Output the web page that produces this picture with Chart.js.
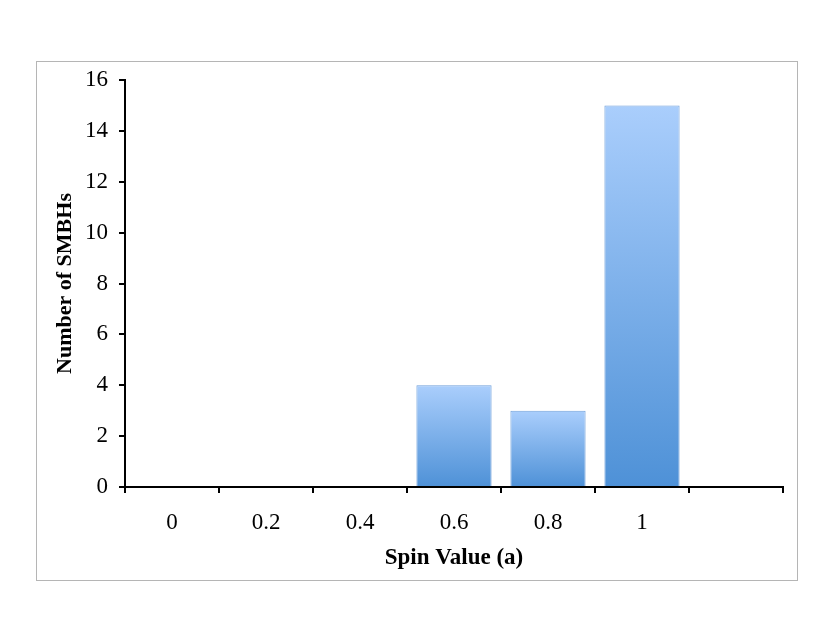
<!DOCTYPE html>
<html>
<head>
<meta charset="utf-8">
<script src="https://cdn.jsdelivr.net/npm/chart.js@4"></script>
<style>
  body { margin: 0; background: #fff; }
</style>
</head>
<body>
<canvas id="spinChart" width="830" height="642"></canvas>
<script>
const spinLabels = ['0', '0.2', '0.4', '0.6', '0.8', '1', ''];
const smbhCounts = [0, 0, 0, 4, 3, 15, null];
const yTicks = [0, 2, 4, 6, 8, 10, 12, 14, 16];

const serif = "'Liberation Serif', 'Times New Roman', serif";

// grey frame round the whole chart
const framePlugin = {
  id: 'frame',
  beforeDraw(chart) {
    const c = chart.ctx;
    c.save();
    c.fillStyle = '#fff';
    c.fillRect(0, 0, chart.width, chart.height);
    c.strokeStyle = '#b5b5b5';
    c.lineWidth = 1;
    c.strokeRect(36.5, 61.5, 761, 519);
    c.restore();
  }
};

function barGradient(context) {
  if (context.type !== 'data') return '#7fb0ea';
  const chart = context.chart;
  if (!chart.chartArea) return '#7fb0ea';
  const y = chart.scales.y;
  const top = y.getPixelForValue(context.raw || 0);
  const base = y.getPixelForValue(0);
  if (base - top < 1) return '#7fb0ea';
  const g = chart.ctx.createLinearGradient(0, top, 0, base);
  g.addColorStop(0, 'rgb(170,206,252)');
  g.addColorStop(1, 'rgb(78,145,215)');
  return g;
}

const ctx = document.getElementById('spinChart').getContext('2d');
new Chart(ctx, {
  type: 'bar',
  data: {
    labels: spinLabels,
    datasets: [{
      label: 'Number of SMBHs',
      data: smbhCounts,
      backgroundColor: barGradient,
      borderColor: 'rgb(112,160,218)',
      borderWidth: 1,
      barPercentage: 0.8,
      categoryPercentage: 1
    }]
  },
  options: {
    responsive: false,
    animation: false,
    layout: { padding: { left: 44, top: 80, right: 47, bottom: 68 } },
    plugins: {
      legend: { display: false },
      tooltip: { enabled: false }
    },
    scales: {
      x: {
        afterFit: (scale) => { scale.height = 642 - 68 - 487; },
        border: { color: '#000', width: 2 },
        grid: { drawOnChartArea: false, drawTicks: true, tickLength: 6, color: '#000', lineWidth: 2, offset: true },
        ticks: { color: '#000', padding: 16, maxRotation: 0, font: { family: serif, size: 23 } },
        title: {
          display: true,
          text: 'Spin Value (a)',
          color: '#000',
          padding: { top: 0, bottom: 2 },
          font: { family: serif, size: 23, weight: 'bold' }
        }
      },
      y: {
        min: 0,
        max: 16,
        afterFit: (scale) => { scale.width = 125 - 44; },
        afterBuildTicks: (scale) => { scale.ticks = yTicks.map(v => ({ value: v })); },
        border: { color: '#000', width: 2 },
        grid: { drawOnChartArea: false, drawTicks: true, tickLength: 6, color: '#000', lineWidth: 2 },
        ticks: { color: '#000', padding: 11, font: { family: serif, size: 23 } },
        title: {
          display: true,
          text: 'Number of SMBHs',
          color: '#000',
          padding: { top: 8, bottom: 0 },
          font: { family: serif, size: 22, weight: 'bold' }
        }
      }
    }
  },
  plugins: [framePlugin]
});
</script>
</body>
</html>
